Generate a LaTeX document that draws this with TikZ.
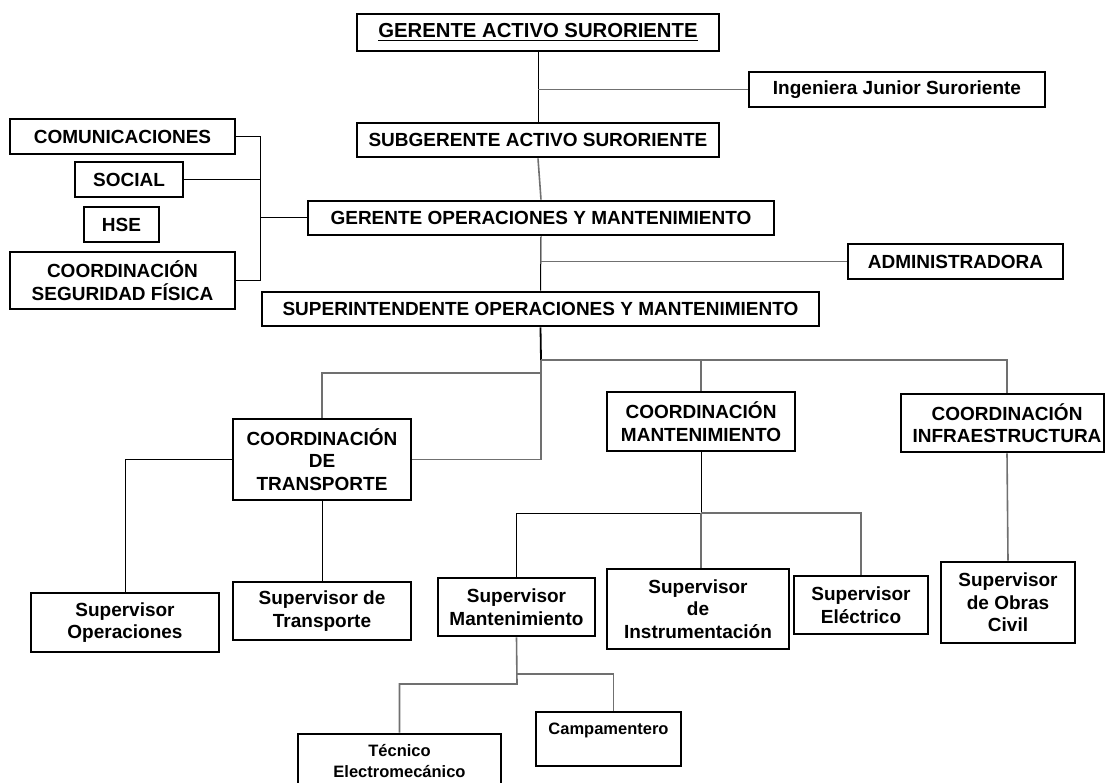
\documentclass[tikz,border=0pt]{standalone}
\usepackage{fontspec}
\setmainfont{Liberation Sans}
\definecolor{linegray}{RGB}{112,112,112}
% underline with a thicker rule than \underline gives
\newcommand\thickul[1]{\setbox0\hbox{#1}\rlap{\raisebox{-3.2pt}{\rule{\wd0}{1.5pt}}}\box0}
% \orgbox[style]{name}{x1}{y1}{x2}{y2}{text}: box given by its corners
\newcommand\orgbox[7][]{%
  \node[box,#1,minimum width={#5-#3},minimum height={#6-#4}] (#2)
    at ({(#3+#5)/2},{(#4+#6)/2}) {#7};}
\begin{document}
\begin{tikzpicture}[x=1pt,y=-1pt,
  box/.style={draw,line width=2.9pt,inner sep=0pt,align=center,
    font=\bfseries\fontsize{19}{22.5}\selectfont},
  lbl/.style={inner sep=0pt,align=center,
    font=\bfseries\fontsize{19}{22.5}\selectfont},
  small/.style={font=\bfseries\fontsize{16.5}{21}\selectfont},
  title/.style={font=\bfseries\fontsize{20.3}{24}\selectfont},
  link/.style={line width=1pt,black},
  glink/.style={line width=1.6pt,linegray}]
\useasboundingbox (0,0) rectangle (1106,783);
\clip (0,0) rectangle (1106,783);

% management chain
\orgbox[title]{ga}{357}{14}{719}{51}{\thickul{GERENTE ACTIVO SURORIENTE}}
\orgbox{ing}{749}{72}{1045}{107}{Ingeniera Junior Suroriente}
\orgbox{subg}{357}{123}{719}{157}{SUBGERENTE ACTIVO SURORIENTE}
\orgbox{gop}{308}{201}{774}{235}{GERENTE OPERACIONES Y MANTENIMIENTO}
\orgbox{adm}{848}{244}{1063}{279}{ADMINISTRADORA}
\orgbox{sup}{262}{292}{819}{326}{SUPERINTENDENTE OPERACIONES Y MANTENIMIENTO}

% staff units on the left
\orgbox{com}{10}{119}{235}{154}{COMUNICACIONES}
\orgbox{soc}{75}{162}{183}{197}{SOCIAL}
\orgbox{hse}{84}{207}{159}{242}{HSE}
\orgbox{seg}{10}{252}{235}{309}{COORDINACIÓN\\SEGURIDAD FÍSICA}

% coordinations
\orgbox{ctra}{233}{419}{411}{500}{COORDINACIÓN\\DE\\TRANSPORTE}
\orgbox{cman}{607}{392}{795}{451}{COORDINACIÓN\\MANTENIMIENTO}
\orgbox{cinf}{901}{394}{1104}{452}{}
\node[lbl] (cinft) at (1007,423) {COORDINACIÓN\\INFRAESTRUCTURA};

% supervisors
\orgbox{sop}{31}{593}{219}{652}{Supervisor\\Operaciones}
\orgbox{str}{233}{582}{411}{640}{Supervisor de\\Transporte}
\orgbox{sman}{438}{578}{595}{636}{Supervisor\\Mantenimiento}
\orgbox{sins}{607}{569}{789}{649}{Supervisor\\de\\Instrumentación}
\orgbox{sele}{794}{576}{928}{634}{Supervisor\\Eléctrico}
\orgbox{sobr}{941}{562}{1075}{643}{Supervisor\\de Obras\\Civil}

% field staff
\orgbox{camp}{536}{712}{681}{766}{}
\node[lbl,small] (campt) at (608.5,730.5) {Campamentero};
\orgbox{tec}{298}{734}{501}{806}{}
\node[lbl,small] (tect) at (399.5,761) {Técnico\\Electromecánico};

% junction points
\coordinate (jl) at (260,218);
\coordinate (bus) at (541,360);
\coordinate (tbus) at (541,373);
\coordinate (mbus) at (701,513);
\coordinate (kc) at (517,674);
\coordinate (kt) at (517,684);

% management chain links
\draw[link] (ga.south) -- (subg.north);
\draw[glink] (ing.west) -- (ing.west -| ga.south);
\draw[glink] (subg.south) -- (gop.north);
\draw[link] (gop.south) -- (sup.north);
\draw[glink] (adm.west) -- (adm.west -| gop.south);

% staff links
\draw[link] (com.east) -| (jl |- soc.east);
\draw[link] (soc.east) -| (jl) -- (gop.west);
\draw[link] (seg.east) -| (jl);

% superintendent to coordinations
\draw[link,line width=1.8pt] (sup.south) -- (bus);
\draw[glink] (bus) -- (tbus);
\draw[glink] (tbus) -| (ctra.north);
\draw[glink] (tbus) |- (ctra.east);
\draw[glink] (bus) -| (cman.north);
\draw[glink] (bus) -| (cinft |- cinf.north);

% transport
\draw[link] (ctra.west) -| (sop.north);
\draw[link] (ctra.south) -- (str.north);

% maintenance
\draw[link] (cman.south) -- (mbus);
\draw[link] (mbus) -| (sman.north);
\draw[glink] (mbus) -| (sele.north);
\draw[glink] (mbus) -- (mbus |- sins.north);

% infrastructure
\draw[glink] (cinft |- cinf.south) -- (sobr.north);

% maintenance supervisor staff
\draw[glink] (sman.south) -- (kt) -| (tec.north);
\draw[glink] (kc) -| ([xshift=5pt]camp.north);
\end{tikzpicture}
\end{document}
